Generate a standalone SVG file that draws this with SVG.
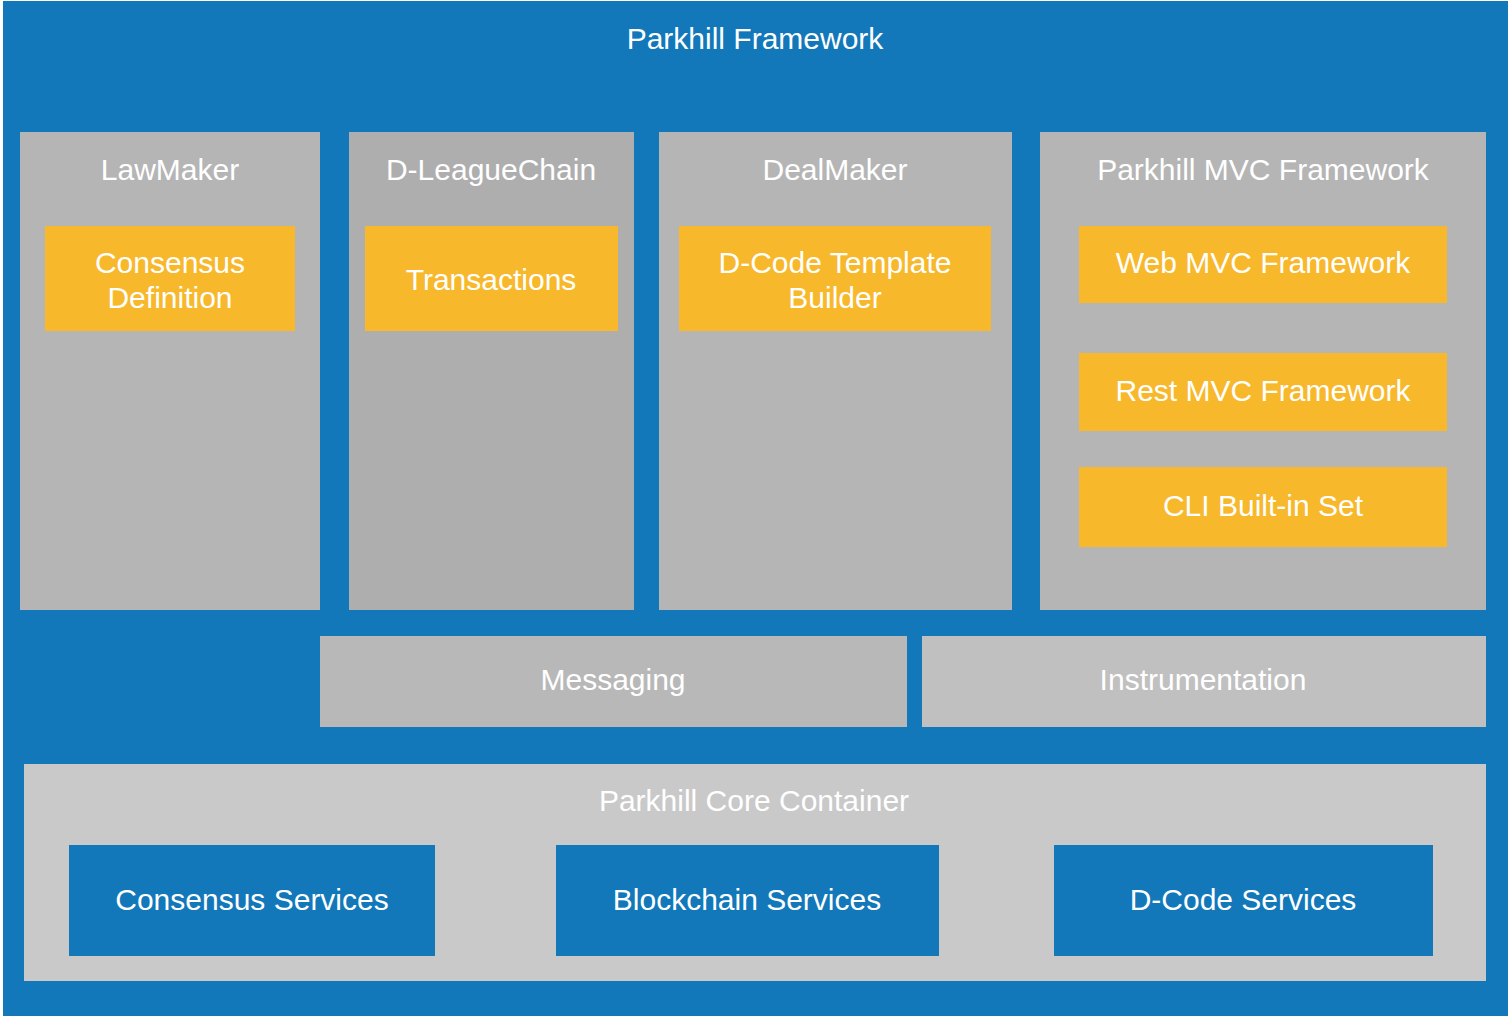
<svg xmlns="http://www.w3.org/2000/svg" width="1508" height="1016" viewBox="0 0 1508 1016">
<style>
text{font-family:"Liberation Sans",Arial,Helvetica,sans-serif;font-size:30px;fill:#ffffff;text-anchor:middle}
.grey{fill:#b5b5b5}
.orange{fill:#f7b82c}
.blue{fill:#1278b9}
</style>
<rect x="0" y="0" width="1508" height="1016" fill="#ffffff"/>
<g id="framework">
<rect class="blue" x="3" y="1" width="1505" height="1015"/>
<text x="755" y="49">Parkhill Framework</text>
</g>
<g id="lawmaker">
<rect class="grey" x="20" y="132" width="300" height="478"/>
<text x="170" y="180">LawMaker</text>
</g>
<g id="consensus-definition">
<rect class="orange" x="45" y="226" width="250" height="105"/>
<text x="170" y="273">Consensus</text>
<text x="170" y="308">Definition</text>
</g>
<g id="dleaguechain">
<rect x="349" y="132" width="285" height="478" fill="#aeaeae"/>
<text x="491" y="180">D-LeagueChain</text>
</g>
<g id="transactions">
<rect class="orange" x="365" y="226" width="253" height="105"/>
<text x="491" y="290">Transactions</text>
</g>
<g id="dealmaker">
<rect class="grey" x="659" y="132" width="353" height="478"/>
<text x="835" y="180">DealMaker</text>
</g>
<g id="dcode-template-builder">
<rect class="orange" x="679" y="226" width="312" height="105"/>
<text x="835" y="273">D-Code Template</text>
<text x="835" y="308">Builder</text>
</g>
<g id="mvc-framework">
<rect class="grey" x="1040" y="132" width="446" height="478"/>
<text x="1263" y="180">Parkhill MVC Framework</text>
</g>
<g id="web-mvc">
<rect class="orange" x="1079" y="226" width="368" height="77"/>
<text x="1263" y="273">Web MVC Framework</text>
</g>
<g id="rest-mvc">
<rect class="orange" x="1079" y="353" width="368" height="78"/>
<text x="1263" y="401">Rest MVC Framework</text>
</g>
<g id="cli">
<rect class="orange" x="1079" y="467" width="368" height="80"/>
<text x="1263" y="516">CLI Built-in Set</text>
</g>
<g id="messaging">
<rect x="320" y="636" width="587" height="91" fill="#b8b8b8"/>
<text x="613" y="690">Messaging</text>
</g>
<g id="instrumentation">
<rect x="922" y="636" width="564" height="91" fill="#c0c0c0"/>
<text x="1203" y="690">Instrumentation</text>
</g>
<g id="core-container">
<rect x="24" y="764" width="1462" height="217" fill="#c9c9c9"/>
<text x="754" y="811">Parkhill Core Container</text>
</g>
<g id="consensus-services">
<rect class="blue" x="69" y="845" width="366" height="111"/>
<text x="252" y="910">Consensus Services</text>
</g>
<g id="blockchain-services">
<rect class="blue" x="556" y="845" width="383" height="111"/>
<text x="747" y="910">Blockchain Services</text>
</g>
<g id="dcode-services">
<rect class="blue" x="1054" y="845" width="379" height="111"/>
<text x="1243" y="910">D-Code Services</text>
</g>
<g id="connectors"></g>
</svg>
